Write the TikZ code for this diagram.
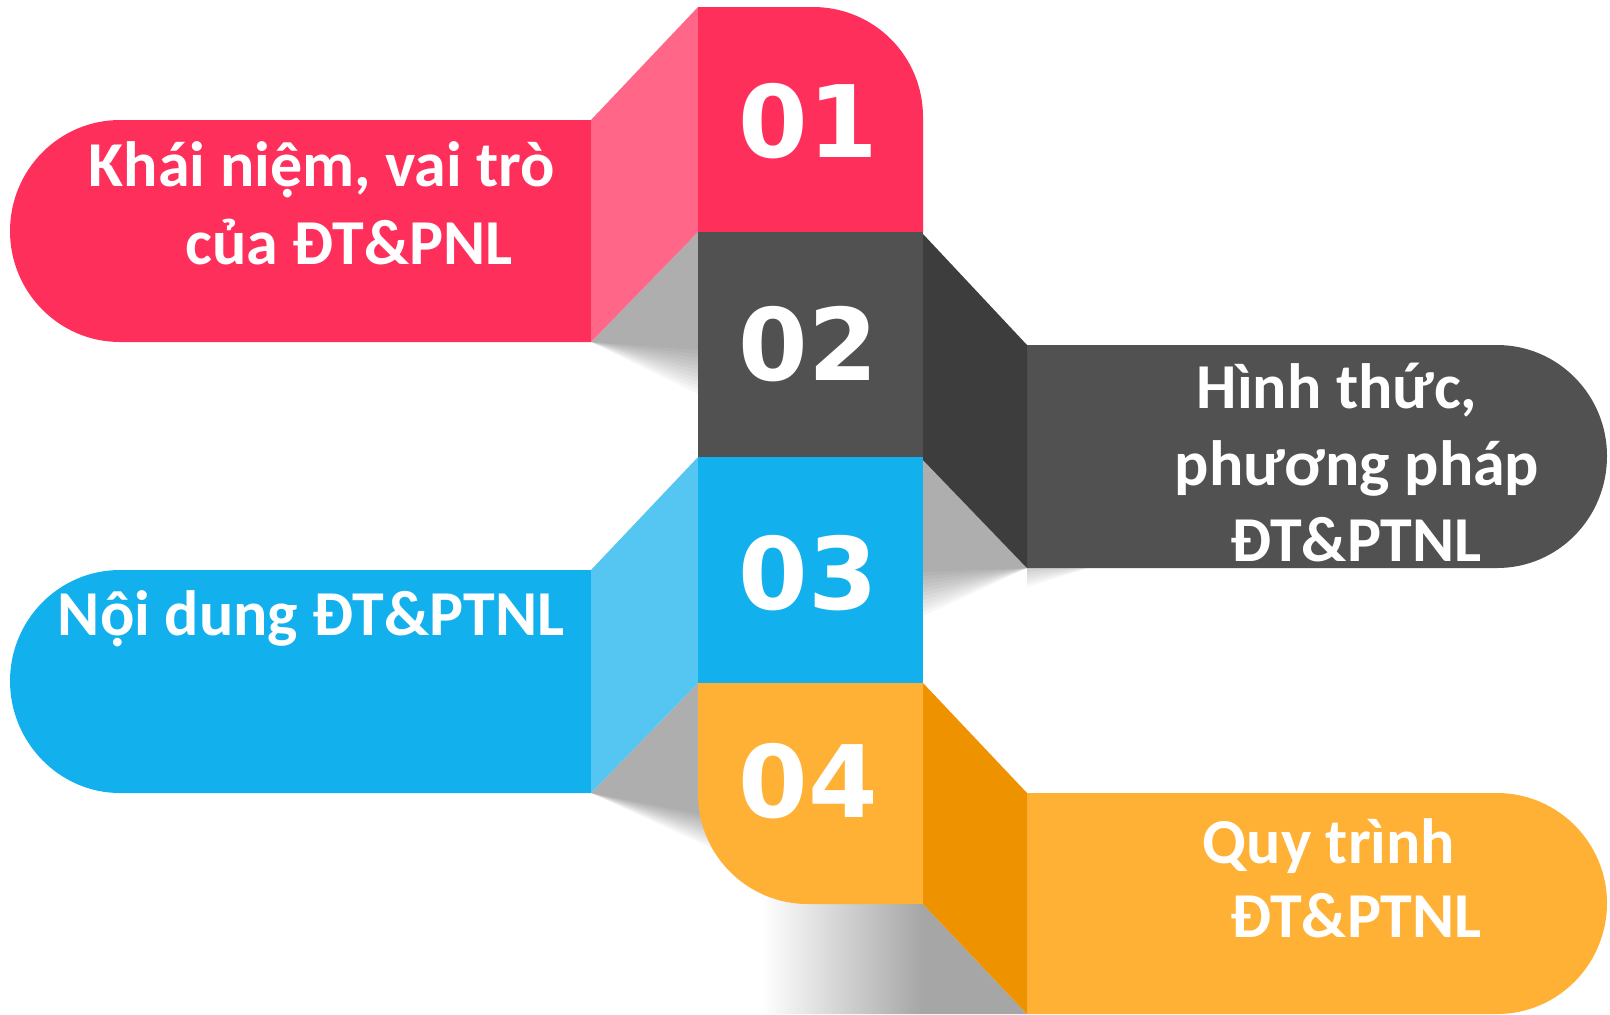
\documentclass[tikz,border=0pt]{standalone}
\usepackage{fontspec}
\setmainfont{Carlito}
\newfontfamily\numfont{DejaVu Sans}
\definecolor{redmain}{HTML}{FF2F5C}
\definecolor{redside}{HTML}{FF6688}
\definecolor{graymain}{HTML}{515151}
\definecolor{grayside}{HTML}{3D3D3D}
\definecolor{bluemain}{HTML}{13B0EE}
\definecolor{blueside}{HTML}{55C6F2}
\definecolor{orangemain}{HTML}{FFB136}
\definecolor{orangeside}{HTML}{EE9200}
\pgfdeclarehorizontalshading{bottomshadow}{100bp}{color(0bp)=(white); color(50bp)=(white); color(62.5bp)=(gray!35); color(75bp)=(gray!70); color(100bp)=(gray!70)}
\begin{document}
\begin{tikzpicture}[x=0.5pt, y=-0.5pt,
    label/.style={text=white, font=\fontsize{32}{38}\selectfont\bfseries, inner sep=0pt, anchor=base},
    number/.style={text=white, font=\numfont\fontsize{50}{60}\selectfont\bfseries, inner sep=0pt},
    shadowlayer/.style={black, opacity=0.03}]
  \useasboundingbox (0,0) rectangle (1610,1014);
  % soft shadows, built from thin layers
  \foreach \i in {0,...,11} {
    \fill[shadowlayer] (591,342) -- (698,232) -- (698,350+4*\i) -- cycle;
    \fill[shadowlayer] (923,455) -- (1027,562) -- (1027,568) -- (923,572+4*\i) -- cycle;
    \fill[shadowlayer] (591,793) -- (698,683) -- (760,683) -- (760,826+4*\i) -- cycle;
  }
  \foreach \i in {0,...,5}
    \fill[shadowlayer] (1027,566) -- (1095,566) -- (1027,572+3*\i) -- cycle;
  \shade[shading=bottomshadow] (600,1014) -- (760,904) -- (760,870) -- (923,870) -- (923,1014) -- cycle;
  \fill[gray!70] (923,904) -- (1027,1014) -- (923,1014) -- cycle;
  % left and right boxes
  \fill[redmain] (591,120) -- (120,120) .. controls (59,120) and (10,170) .. (10,231)
    .. controls (10,292) and (59,342) .. (120,342) -- (591,342) -- cycle;
  \fill[graymain] (1027,345) -- (1497,345) .. controls (1558,345) and (1607,395) .. (1607,456)
    .. controls (1607,518) and (1558,568) .. (1497,568) -- (1027,568) -- cycle;
  \fill[bluemain] (591,570) -- (120,570) .. controls (59,570) and (10,620) .. (10,681)
    .. controls (10,742) and (59,793) .. (120,793) -- (591,793) -- cycle;
  \fill[orangemain] (1027,793) -- (1497,793) .. controls (1558,793) and (1607,843) .. (1607,903)
    .. controls (1607,964) and (1558,1014) .. (1497,1014) -- (1027,1014) -- cycle;
  % side faces
  \fill[redside] (591,120) -- (698,7) -- (698,232) -- (591,342) -- cycle;
  \fill[grayside] (923,234) -- (1027,345) -- (1027,568) -- (923,460) -- cycle;
  \fill[blueside] (591,570) -- (698,457) -- (698,683) -- (591,793) -- cycle;
  \fill[orangeside] (923,683) -- (1027,793) -- (1027,1014) -- (923,904) -- cycle;
  % middle column
  \fill[redmain] (698,7) -- (813,7) .. controls (874,7) and (923,56) .. (923,117) -- (923,232) -- (698,232) -- cycle;
  \fill[graymain] (698,232) rectangle (923,457);
  \fill[bluemain] (698,457) rectangle (923,683);
  \fill[orangemain] (698,683) -- (923,683) -- (923,904) -- (808,904) .. controls (747,904) and (698,855) .. (698,794) -- cycle;
  % numbers
  \node[number] (n01) at (808,121) {01};
  \node[number] (n02) at (808,344) {02};
  \node[number] (n03) at (808,573) {03};
  \node[number] (n04) at (808,781) {04};
  % texts
  \node[label] (t1a) at (322,186) {Khái niệm, vai trò};
  \node[label] (t1b) at (349,264) {của ĐT\&PNL};
  \node[label] (t2a) at (1337,408) {Hình thức,};
  \node[label] (t2b) at (1357,485) {phương pháp};
  \node[label] (t2c) at (1356,561) {ĐT\&PTNL};
  \node[label] (t3a) at (311,635) {Nội dung ĐT\&PTNL};
  \node[label] (t4a) at (1329,863) {Quy trình};
  \node[label] (t4b) at (1356,937) {ĐT\&PTNL};
\end{tikzpicture}
\end{document}
